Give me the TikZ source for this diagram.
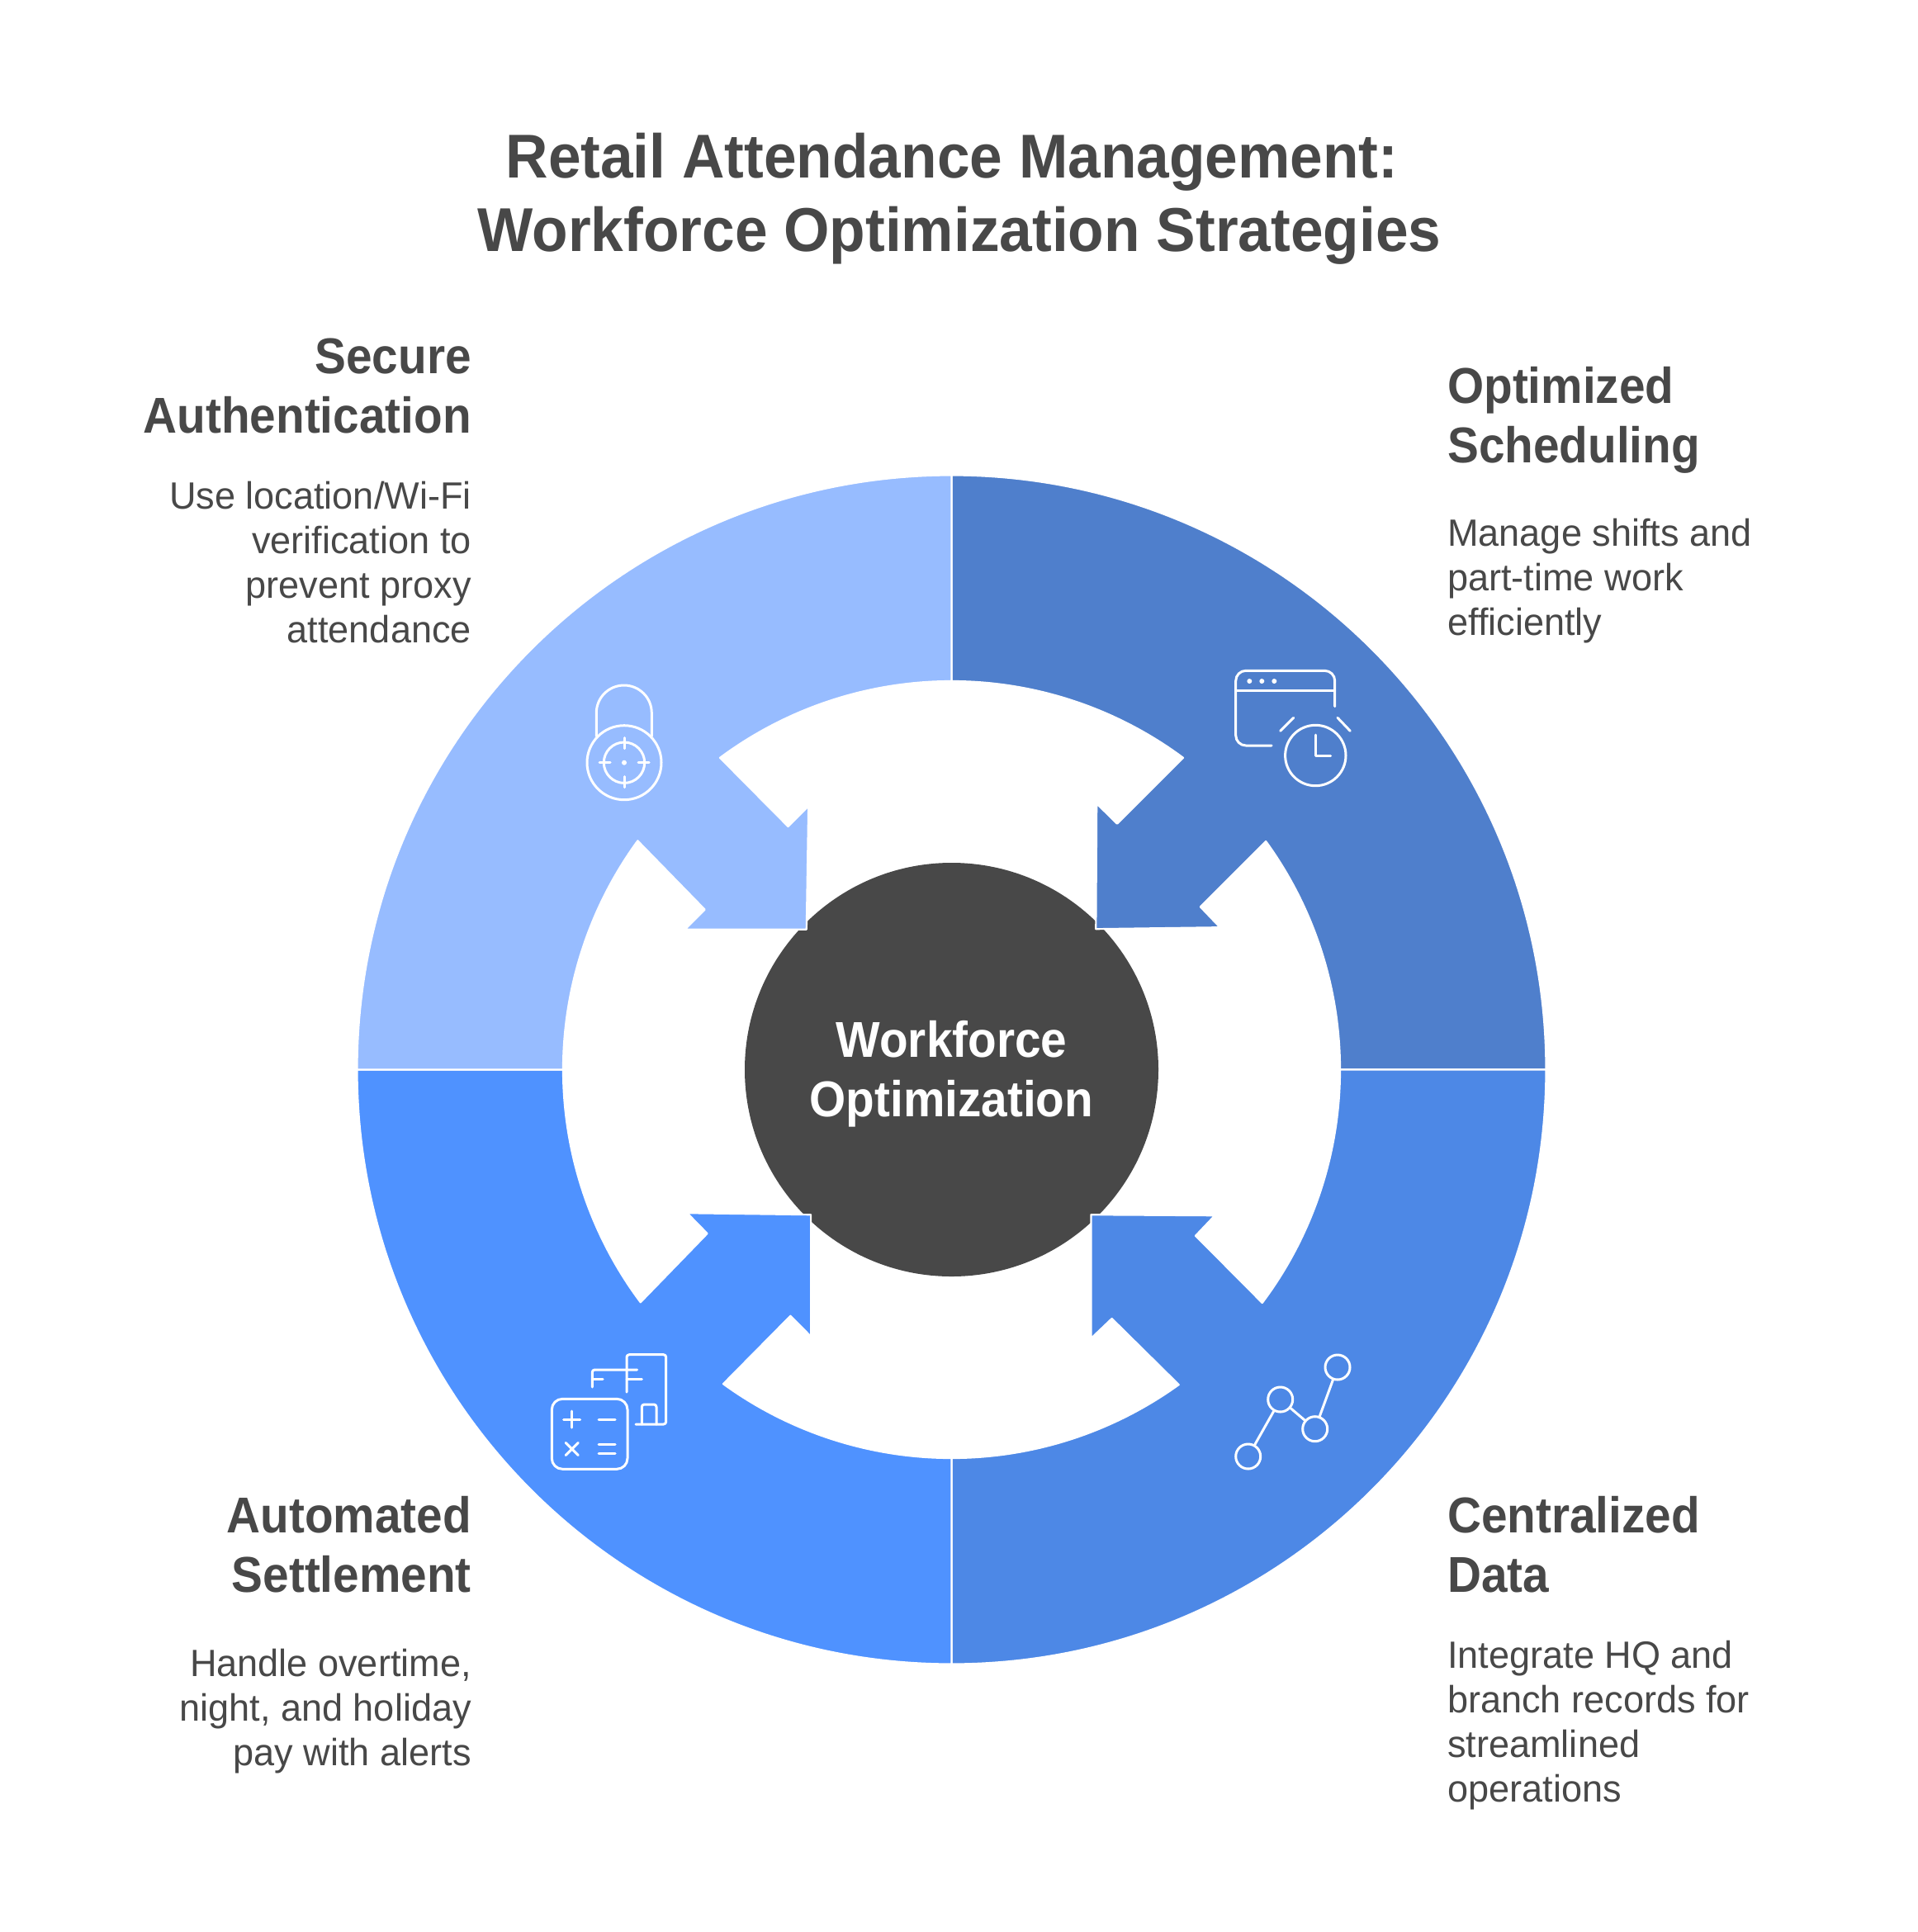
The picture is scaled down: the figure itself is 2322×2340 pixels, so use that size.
\documentclass[tikz,border=0pt]{standalone}
\usepackage{fontspec}
\setmainfont{Liberation Sans}
\newfontfamily\titlefam[FakeStretch=0.95]{Liberation Sans}
\newfontfamily\headfam[FakeStretch=0.93]{Liberation Sans}
\newfontfamily\bodyfam[FakeStretch=0.98]{Liberation Sans}
\usetikzlibrary{calc}
\definecolor{cTL}{HTML}{97BCFF}
\definecolor{cTR}{HTML}{4F7FCC}
\definecolor{cBR}{HTML}{4D88E6}
\definecolor{cBL}{HTML}{4F92FF}
\definecolor{cDark}{HTML}{484848}
\tikzset{
  seg/.style={draw=white,line width=2.2pt,line join=round},
  ico/.style={draw=white,line width=3pt,line cap=round,line join=round},
  dotw/.style={fill=white,draw=none},
  netnode/.style={circle,draw=white,line width=3pt,minimum size=30pt,inner sep=0pt},
  titlet/.style={text=cDark,inner sep=0pt,font=\titlefam\fontsize{75}{89}\selectfont\bfseries,align=center,anchor=base},
  headr/.style={text=cDark,inner sep=0pt,font=\headfam\fontsize{61}{72}\selectfont\bfseries,align=right,anchor=base east},
  headl/.style={text=cDark,inner sep=0pt,font=\headfam\fontsize{61}{72}\selectfont\bfseries,align=left,anchor=base west},
  bodyr/.style={text=cDark,inner sep=0pt,font=\bodyfam\fontsize{46}{54}\selectfont,align=right,anchor=base east},
  bodyl/.style={text=cDark,inner sep=0pt,font=\bodyfam\fontsize{46}{54}\selectfont,align=left,anchor=base west},
}
\begin{document}
\begin{tikzpicture}[x=1pt,y=1pt,yscale=-1]
\useasboundingbox[fill=white] (0,0) rectangle (2322,2340);
\coordinate (C) at (1152.5,1295.5);
\node[circle,fill=cDark,minimum size=501pt,inner sep=0pt] (hub) at (C) {};
% segments
\draw[seg,fill=cTR] ($(C)+(-90:720pt)$) arc[start angle=-90,end angle=0,radius=720pt]
  -- ($(C)+(0:470.5pt)$) arc[start angle=0,end angle=-36,radius=470.5pt]
  -- (1453.8,1098.3) -- (1477.6,1123.2) -- (1327.3,1125.2) -- (1328.2,973.3) -- (1353,997.7)
  -- ($(C)+(-53.4:470.5pt)$) arc[start angle=-53.4,end angle=-90,radius=470.5pt] -- cycle;
\draw[seg,fill=cBR] ($(C)+(0:720pt)$) arc[start angle=0,end angle=90,radius=720pt]
  -- ($(C)+(90:470.5pt)$) arc[start angle=90,end angle=54.2,radius=470.5pt]
  -- (1346.6,1597) -- (1321.4,1621) -- (1321.4,1471.2) -- (1471.3,1472.2) -- (1448,1496.7)
  -- ($(C)+(36.9:470.5pt)$) arc[start angle=36.9,end angle=0,radius=470.5pt] -- cycle;
\draw[seg,fill=cBL] ($(C)+(90:720pt)$) arc[start angle=90,end angle=180,radius=720pt]
  -- ($(C)+(180:470.5pt)$) arc[start angle=180,end angle=143.2,radius=470.5pt]
  -- (856.6,1494) -- (832.3,1469.2) -- (982.1,1471.2) -- (982.1,1618.7) -- (957.4,1593.7)
  -- ($(C)+(126:470.5pt)$) arc[start angle=126,end angle=90,radius=470.5pt] -- cycle;
\draw[seg,fill=cTL] ($(C)+(180:720pt)$) arc[start angle=180,end angle=270,radius=720pt]
  -- ($(C)+(270:470.5pt)$) arc[start angle=270,end angle=233.4,radius=470.5pt]
  -- (954.5,1001) -- (979.2,976.3) -- (976.8,1125.8) -- (829.4,1125.8) -- (853.7,1101.7)
  -- ($(C)+(216.1:470.5pt)$) arc[start angle=216.1,end angle=180,radius=470.5pt] -- cycle;
% lock icon
\draw[ico] (722.3,891.7) -- (722.3,863.5) arc[start angle=180,end angle=360,radius=33.5pt] -- (789.3,891.7);
\draw[ico] (756,923.7) circle[radius=45pt];
\draw[ico] (756,923.7) circle[radius=24.7pt];
\draw[ico] (756,893.7) -- (756,906.7) (756,940.7) -- (756,953.7) (726,923.7) -- (739,923.7) (773,923.7) -- (786,923.7);
\fill[dotw] (756,923.7) circle[radius=3pt];
% window and clock icon
\draw[ico] (1540,903) -- (1509,903) arc[start angle=90,end angle=180,radius=12.3pt] -- (1496.7,824.6) arc[start angle=180,end angle=270,radius=12.3pt] -- (1604.4,812.3) arc[start angle=270,end angle=360,radius=12.3pt] -- (1616.7,855.7);
\draw[ico] (1496.7,836.7) -- (1616.7,836.7);
\fill[dotw] (1513.3,825) circle[radius=3pt] (1528.3,825) circle[radius=3pt] (1543.3,825) circle[radius=3pt];
\draw[ico] (1593.3,915) circle[radius=36.7pt];
\draw[ico] (1593.3,890) -- (1593.3,915) -- (1611.7,915);
\draw[ico] (1566.7,869.3) -- (1550.7,885.3) (1620,869.3) -- (1635.3,885.3);
% network icon
\node[netnode] (n1) at (1511.7,1764) {};
\node[netnode] (n2) at (1550.7,1695) {};
\node[netnode] (n3) at (1592.7,1730.7) {};
\node[netnode] (n4) at (1620,1656) {};
\draw[ico] (n1) -- (n2);
\draw[ico] (n2) -- (n3);
\draw[ico] (n3) -- (n4);
% calculator icon
\draw[ico,rounded corners=13pt] (668.3,1694.3) rectangle (760,1779.3);
\draw[ico] (682.7,1719) -- (702.7,1719) (692.7,1709) -- (692.7,1729) (725,1719) -- (745,1719);
\draw[ico] (685.2,1747.5) -- (700.2,1762.5) (685.2,1762.5) -- (700.2,1747.5);
\draw[ico] (725,1749) -- (745,1749) (725,1760.7) -- (745,1760.7);
\draw[ico,rounded corners=3pt] (759,1686) -- (759,1640.7) -- (806.7,1640.7) -- (806.7,1725) -- (770,1725);
\draw[ico,rounded corners=3pt] (777.3,1725) -- (777.3,1701) -- (795,1701) -- (795,1725);
\draw[ico,rounded corners=3pt] (717.3,1680) -- (717.3,1659) -- (771.7,1659);
\draw[ico] (717.3,1670.7) -- (730,1670.7) (759,1670.7) -- (777.3,1670.7);
% texts
\node[titlet] (title1) at (1153,215) {Retail Attendance Management:};
\node[titlet] (title2) at (1162,304) {Workforce Optimization Strategies};
\node[headr] (h1) at (571,524) {Secure\\Authentication};
\node[bodyr] (b1) at (571,778) {Use location/Wi-Fi\\verification to\\prevent proxy\\attendance};
\node[headl] (h2) at (1753,560) {Optimized\\Scheduling};
\node[bodyl] (b2) at (1753,769) {Manage shifts and\\part-time work\\efficiently};
\node[headr] (h3) at (571,1928) {Automated\\Settlement};
\node[bodyr] (b3) at (571,2138) {Handle overtime,\\night, and holiday\\pay with alerts};
\node[headl] (h4) at (1753,1928) {Centralized\\Data};
\node[bodyl] (b4) at (1753,2182) {Integrate HQ and\\branch records for\\streamlined\\operations};
\node[text=white,inner sep=0pt,font=\headfam\fontsize{61}{72}\selectfont\bfseries,align=center,anchor=base] (hubt) at (1152.5,1352) {Workforce\\Optimization};
\end{tikzpicture}
\end{document}
